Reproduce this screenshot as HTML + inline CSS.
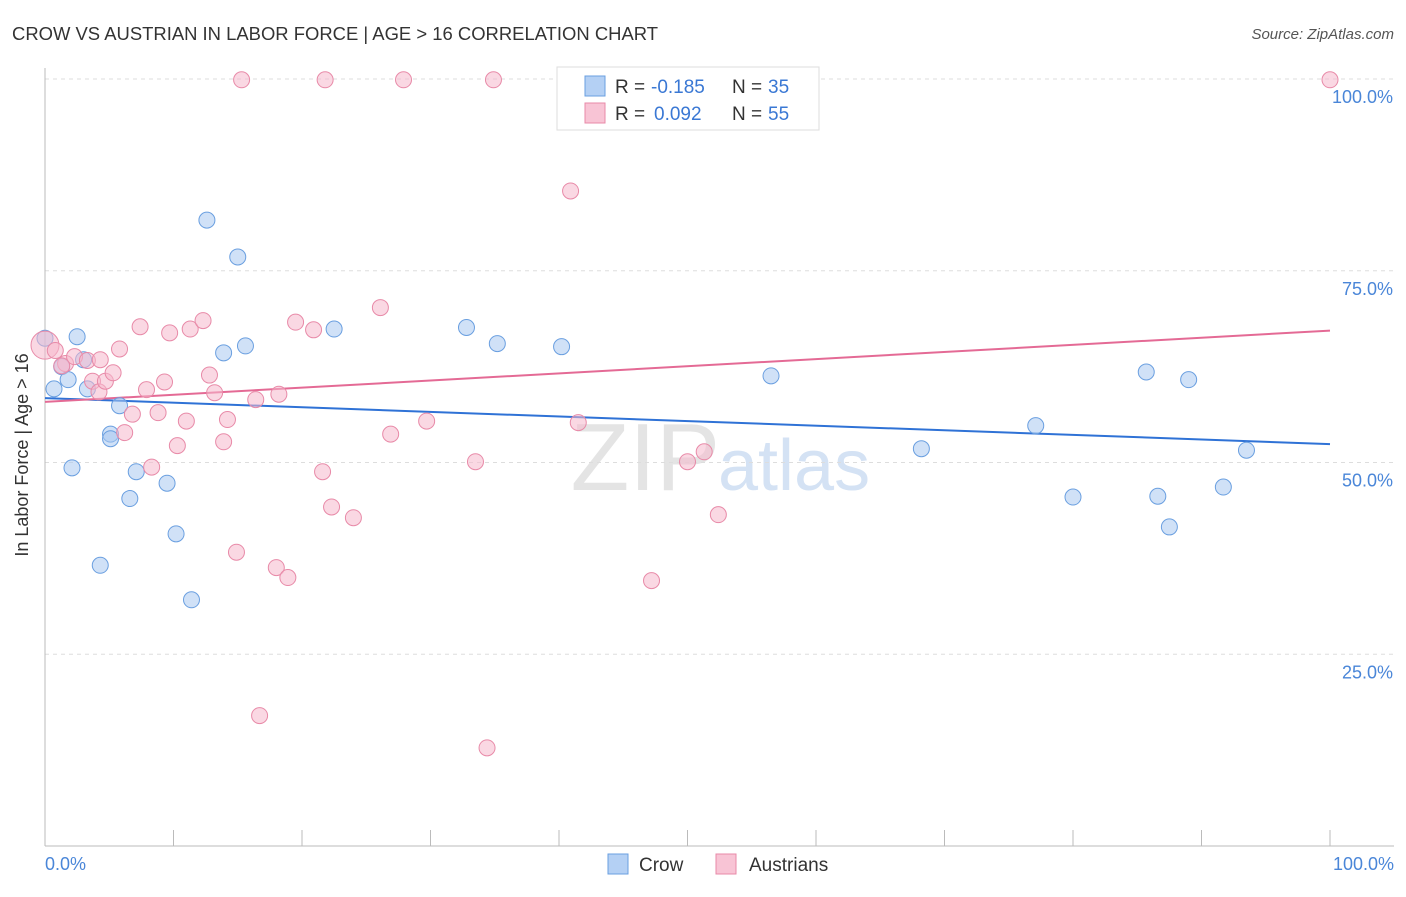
<!DOCTYPE html>
<html><head><meta charset="utf-8"><style>
body{margin:0;background:#fff;font-family:"Liberation Sans",sans-serif;}
svg text{font-family:"Liberation Sans",sans-serif;}
</style></head><body>
<svg id="chart" width="1406" height="892">
<text x="12" y="40" font-size="18" fill="#333" textLength="646" lengthAdjust="spacingAndGlyphs">CROW VS AUSTRIAN IN LABOR FORCE | AGE &gt; 16 CORRELATION CHART</text>
<text x="1394" y="39" font-size="15" fill="#555" text-anchor="end" font-style="italic">Source: ZipAtlas.com</text>
<text x="720" y="490" font-size="96" fill="#e4e4e4" text-anchor="end" font-family="Liberation Serif">ZIP</text>
<text x="718" y="490" font-size="72" fill="#d4e2f4">atlas</text>
<g id="grid"></g><g id="axes"></g><g id="lines"></g><g id="pts"></g>
<text x="28" y="455" font-size="18" fill="#333" transform="rotate(-90 28 455)" text-anchor="middle">In Labor Force | Age &gt; 16</text>
<text x="45" y="870" font-size="18" fill="#4a86d8">0.0%</text>
<text x="1394" y="870" font-size="18" fill="#4a86d8" text-anchor="end">100.0%</text>
<g>
<rect x="557" y="67" width="262" height="63" fill="#fff" stroke="#ddd"/>
<rect x="585" y="76" width="20" height="20" fill="#b4d0f4" stroke="#6a9fe0"/>
<rect x="585" y="103" width="20" height="20" fill="#f8c4d5" stroke="#e88aa8"/>
<text x="615" y="93" font-size="19" fill="#333">R =</text><text x="651" y="93" font-size="19" fill="#3a78d4">-0.185</text>
<text x="732" y="93" font-size="19" fill="#333">N =</text><text x="768" y="93" font-size="19" fill="#3a78d4">35</text>
<text x="615" y="120" font-size="19" fill="#333">R =</text><text x="654" y="120" font-size="19" fill="#3a78d4">0.092</text>
<text x="732" y="120" font-size="19" fill="#333">N =</text><text x="768" y="120" font-size="19" fill="#3a78d4">55</text>
</g>
<g><rect x="608" y="854" width="20" height="20" fill="#b4d0f4" stroke="#6a9fe0"/><text x="639" y="871" font-size="19" fill="#333">Crow</text></g>
<g><rect x="716" y="854" width="20" height="20" fill="#f8c4d5" stroke="#e88aa8"/><text x="749" y="871" font-size="19" fill="#333">Austrians</text></g>
</svg>
<script>
const yTicks=[25,50,75,100];
const yTickLabels=["25.0%","50.0%","75.0%","100.0%"];
const crowX=[0,0.7,1.3,1.8,2.1,2.5,3.0,3.3,4.3,5.1,5.1,5.8,6.6,7.1,9.5,10.2,11.4,12.6,13.9,15.0,15.6,22.5,32.8,35.2,40.2,56.5,68.2,77.1,80.0,85.7,86.6,87.5,89.0,91.7,93.5];
const crowY=[66.2,59.6,62.5,60.8,49.3,66.4,63.4,59.6,36.6,53.7,53.1,57.4,45.3,48.8,47.3,40.7,32.1,81.6,64.3,76.8,65.2,67.4,67.6,65.5,65.1,61.3,51.8,54.8,45.5,61.8,45.6,41.6,60.8,46.8,51.6];
const ausX=[0,0.8,1.6,2.3,3.3,3.7,4.2,4.7,5.3,5.8,6.2,6.8,7.4,7.9,8.3,8.8,9.3,9.7,10.3,11.0,11.3,12.3,12.8,13.2,13.9,14.2,14.9,15.3,16.4,16.7,18.0,18.2,18.9,19.5,20.9,21.6,21.8,22.3,24.0,26.1,26.9,27.9,29.7,33.5,34.4,34.9,40.9,41.5,47.2,50.0,51.3,52.4,100,1.3,4.3];
const ausY=[65.3,64.6,62.9,63.8,63.3,60.6,59.2,60.6,61.7,64.8,53.9,56.3,67.7,59.5,49.4,56.5,60.5,66.9,52.2,55.4,67.4,68.5,61.4,59.1,52.7,55.6,38.3,99.9,58.2,17.0,36.3,58.9,35.0,68.3,67.3,48.8,99.9,44.2,42.8,70.2,53.7,99.9,55.4,50.1,12.8,99.9,85.4,55.2,34.6,50.1,51.4,43.2,99.9,62.6,63.4];
const crowTrend=[58.4,52.4];
const ausTrend=[57.9,67.2];
const NS="http://www.w3.org/2000/svg";
const X0=45,X1=1330,Y0=846,Y100=79;
const sx=v=>X0+(X1-X0)*v/100, sy=v=>Y0-(Y0-Y100)*v/100;
function mk(t,a,p){const e=document.createElementNS(NS,t);for(const k in a)e.setAttribute(k,a[k]);document.getElementById(p).appendChild(e);return e;}
yTicks.forEach((t,i)=>{
 const l=mk('line',{x1:45,x2:1394,y1:sy(t),y2:sy(t),stroke:'#ddd','stroke-dasharray':'4,4'},'grid');
 
 
 const tx=mk('text',{x:1393,y:sy(t)+24,'font-size':18,fill:'#4a86d8','text-anchor':'end'},'grid');
 tx.textContent=yTickLabels[i];
 
 
});
let a=mk('line',{x1:45,x2:45,y1:68,y2:846,stroke:'#bbb'},'axes');


a=mk('line',{x1:45,x2:1394,y1:846,y2:846,stroke:'#bbb'},'axes');


for(let i=1;i<=10;i++){const t=mk('line',{x1:sx(i*10),x2:sx(i*10),y1:830,y2:846,stroke:'#bbb'},'axes');
 
 }
function pts(xs,ys,fill,stroke,name){xs.forEach((x,i)=>{
 const c=mk('circle',{cx:sx(x),cy:sy(ys[i]),r:(x===0&&name==='austrian-point')?14:8,fill:fill,'fill-opacity':0.55,stroke:stroke,'stroke-width':1},'pts');
 
 });}
pts(crowX,crowY,'#a9c9f0','#6a9fe0','crow-point');
pts(ausX,ausY,'#f5b8cc','#e88aa8','austrian-point');
let tl=mk('line',{x1:sx(0),x2:sx(100),y1:sy(crowTrend[0]),y2:sy(crowTrend[1]),stroke:'#2f72d6','stroke-width':2},'lines');


tl=mk('line',{x1:sx(0),x2:sx(100),y1:sy(ausTrend[0]),y2:sy(ausTrend[1]),stroke:'#e46a95','stroke-width':2},'lines');


</script>
</body></html>
